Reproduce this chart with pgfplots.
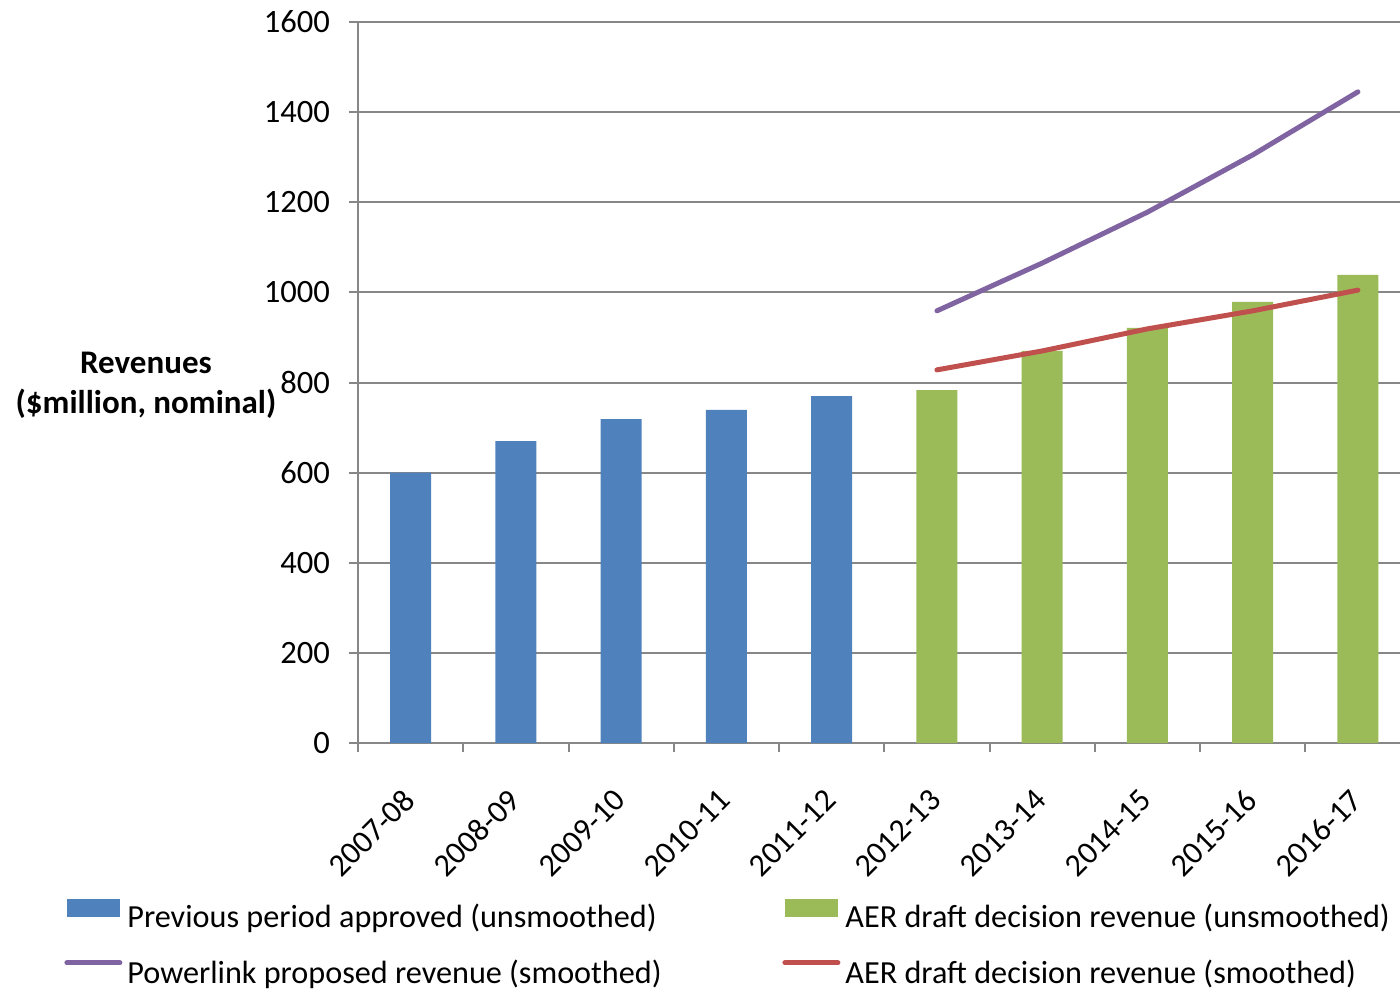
\documentclass[border=0pt]{standalone}
\usepackage{pgfplots}
\pgfplotsset{compat=1.18}
\usepackage{fontspec}
\setmainfont{Carlito}
\definecolor{cblue}{HTML}{4F81BD}
\definecolor{cgreen}{HTML}{9BBB59}
\definecolor{cpurple}{HTML}{8064A2}
\definecolor{cred}{HTML}{C0504D}
\definecolor{cgrid}{HTML}{878787}
\begin{document}
\begin{tikzpicture}
\path[use as bounding box] (-179pt,-124.5pt) rectangle (521pt,371.5pt);
\begin{axis}[
  scale only axis,
  width=521pt, height=360.5pt,
  xmin=-0.5, xmax=9.4,
  ymin=0, ymax=1600,
  ytick={0,200,...,1600},
  xtick={0,...,9},
  xticklabels={2007-08,2008-09,2009-10,2010-11,2011-12,2012-13,2013-14,2014-15,2015-16,2016-17},
  minor xtick={-0.5,0.5,...,8.5},
  axis x line*=bottom, axis y line*=left,
  axis line style={cgrid, line width=1pt, -},
  tick align=outside,
  major tick length=4.5pt, minor tick length=4.5pt,
  major x tick style={draw=none},
  minor x tick style={cgrid, line width=1pt},
  major y tick style={cgrid, line width=1pt},
  ymajorgrids,
  grid style={cgrid, line width=1pt},
  /pgf/number format/1000 sep={},
  /pgf/number format/assume math mode=true,
  tick label style={font=\fontsize{16.3}{19}\selectfont},
  yticklabel style={xshift=-6pt},
  xticklabel style={font=\fontsize{16}{19}\selectfont, xshift=1.8pt, yshift=-19pt, rotate=45, anchor=east},
  ylabel={Revenues\\(\$million, nominal)},
  ylabel style={rotate=-90, align=center, font=\bfseries\fontsize{16.5}{20}\selectfont, at={(axis description cs:-0.2035,0.4965)}, anchor=center},
  legend columns=2,
  legend cell align=left,
  legend style={draw=none, fill=none, inner sep=0pt, at={(axis description cs:0,0)}, anchor=north west, xshift=-147pt, yshift=-78pt,
    font=\fontsize{16.1}{19}\selectfont,
    nodes={inner sep=0pt},
    row sep=14.5pt,
    /tikz/every odd column/.append style={column sep=2.5pt}},
]
\addplot[ybar, bar width=20.5pt, bar shift=0pt, fill=cblue, draw=none,
  legend image code/.code={\fill[cblue] (0pt,0pt) rectangle (26.5pt,9pt);}]
  coordinates {(0,600) (1,670) (2,719) (3,739) (4,770)};
\addlegendentry{\makebox[327.5pt][l]{Previous period approved (unsmoothed)}}
\addplot[ybar, bar width=20.5pt, bar shift=0pt, fill=cgreen, draw=none,
  legend image code/.code={\fill[cgreen] (0pt,0pt) rectangle (26.5pt,9pt);}]
  coordinates {(5,783) (6,870) (7,921) (8,979) (9,1039)};
\addlegendentry{AER draft decision revenue (unsmoothed)}
\addplot[cpurple, line width=2.5pt, line cap=round, mark=none,
  legend image code/.code={\draw[cpurple, line width=2.5pt, line cap=round] (0pt,5pt) -- (26.5pt,5pt);}]
  coordinates {(5,959) (6,1065) (7,1178) (8,1305) (9,1445)};
\addlegendentry{\makebox[327.5pt][l]{Powerlink proposed revenue (smoothed)}}
\addplot[cred, line width=2.5pt, line cap=round, mark=none,
  legend image code/.code={\draw[cred, line width=2.5pt, line cap=round] (0pt,5pt) -- (26.5pt,5pt);}]
  coordinates {(5,828) (6,870) (7,919) (8,959) (9,1005)};
\addlegendentry{AER draft decision revenue (smoothed)}
\end{axis}
\end{tikzpicture}
\end{document}
